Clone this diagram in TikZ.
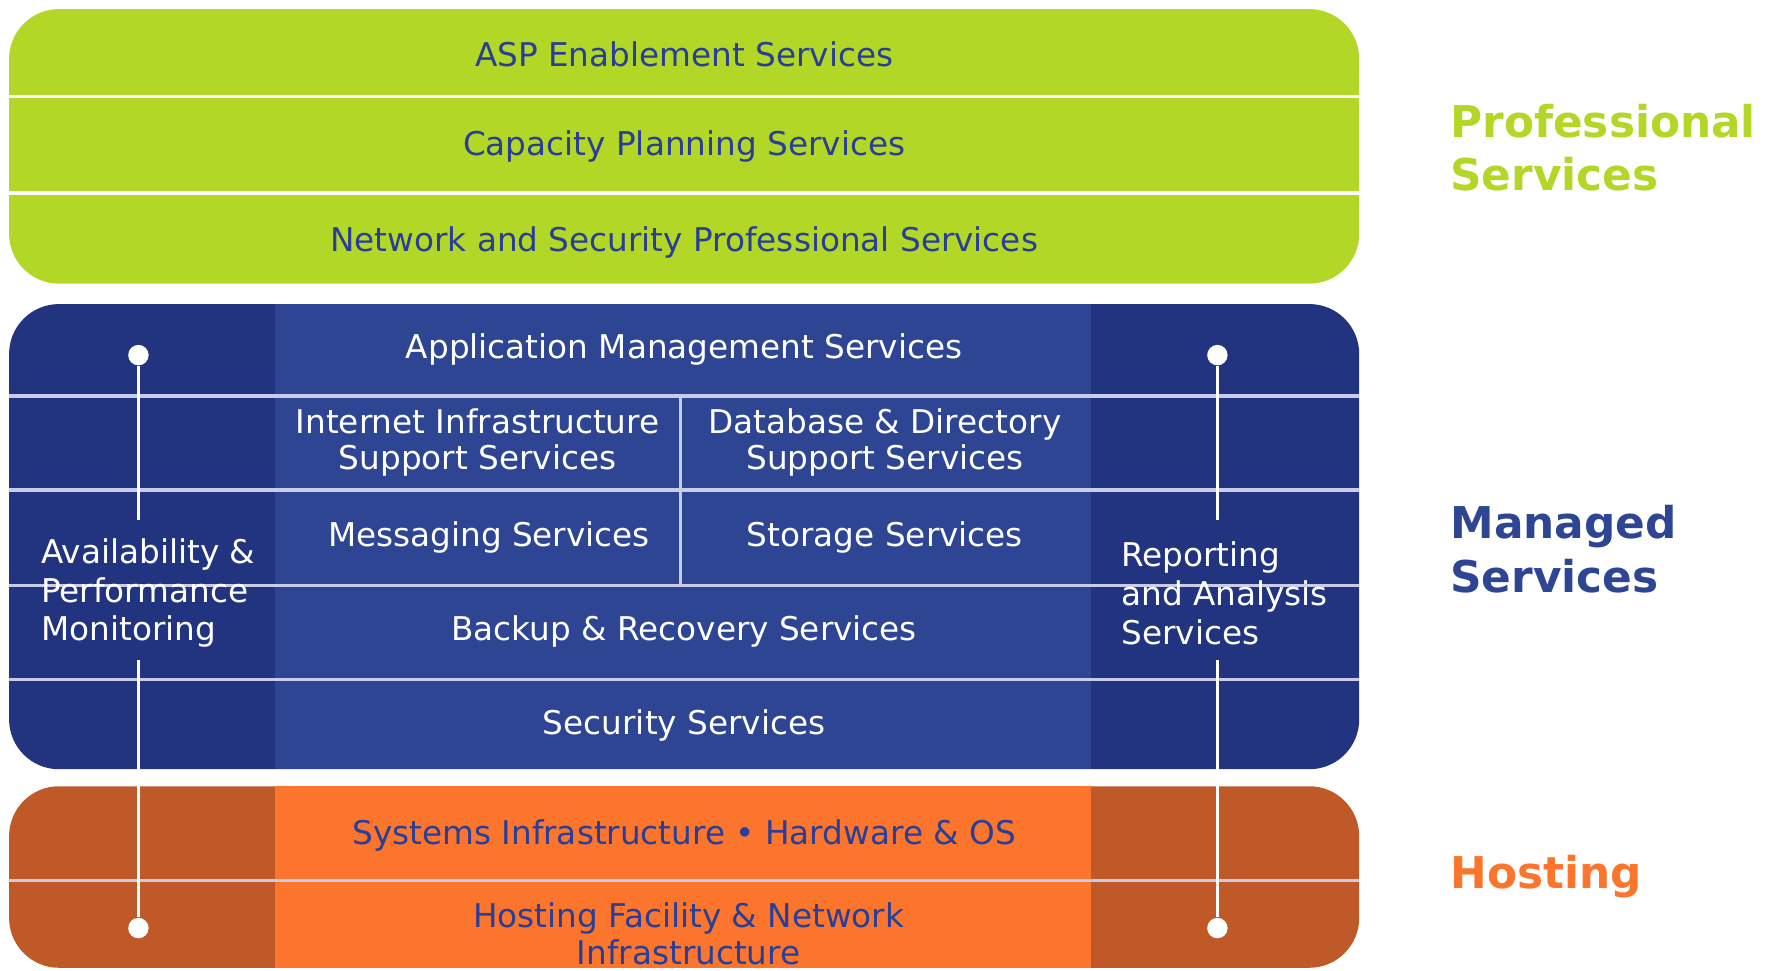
\documentclass[tikz,border=0pt]{standalone}
\usepackage{fontspec}
\setmainfont{DejaVu Sans}
\definecolor{profgreen}{RGB}{179,215,38}
\definecolor{mgdblue}{RGB}{45,69,147}
\definecolor{mgddark}{RGB}{34,52,127}
\definecolor{hostorange}{RGB}{252,117,45}
\definecolor{hostdark}{RGB}{191,90,40}
\definecolor{labelblue}{RGB}{40,62,152}
\definecolor{rulecol}{RGB}{200,204,232}
\begin{document}
\begin{tikzpicture}[x=0.5pt,y=-0.5pt,
  band/.style={rounded corners=22pt},
  svc/.style={font=\fontsize{14.4}{16}\selectfont, align=center, inner sep=0pt},
  side/.style={font=\fontsize{14.4}{17}\selectfont, align=left, anchor=west, inner sep=0pt, text=white},
  head/.style={font=\fontsize{19.3}{23.5}\selectfont\bfseries, align=left, anchor=west, inner sep=0pt},
  divider/.style={rulecol, line width=1.5pt},
  dot/.style={circle, fill=white, inner sep=0pt, minimum size=9pt},
  vline/.style={white, line width=1.3pt}]
\useasboundingbox (0,0) rectangle (1568,855);
% professional services
\fill[profgreen, band] (8,8) rectangle (1198,250);
\draw[white, line width=1.5pt] (8,85) -- (1198,85);
\draw[white, line width=1.5pt] (8,170) -- (1198,170);
\node[svc, text=labelblue] (asp) at (603,48) {ASP Enablement Services};
\node[svc, text=labelblue] (cap) at (603,129) {Capacity Planning Services};
\node[svc, text=labelblue] (netsec) at (603,214) {Network and Security Professional Services};
% managed services
\fill[mgddark, band] (8,268) rectangle (1198,678);
\fill[mgdblue] (242,268) rectangle (962,678);
\foreach \y in {349,432,516,599}
  \draw[divider] (8,\y) -- (1198,\y);
\draw[divider] (600,349) -- (600,516);
\node[svc, text=white] (app) at (603,308) {Application Management Services};
\node[svc, text=white] (inet) at (421,390) {Internet Infrastructure\\Support Services};
\node[svc, text=white] (db) at (780,390) {Database \& Directory\\Support Services};
\node[svc, text=white] (msg) at (431,474) {Messaging Services};
\node[svc, text=white] (stor) at (780,474) {Storage Services};
\node[svc, text=white] (backup) at (603,557) {Backup \& Recovery Services};
\node[svc, text=white] (sec) at (603,639) {Security Services};
% hosting
\fill[hostdark, band] (8,693) rectangle (1198,853);
\fill[hostorange] (242,693) rectangle (962,853);
\draw[divider] (8,776) -- (1198,776);
\node[svc, text=labelblue] (sys) at (603,736) {Systems Infrastructure • Hardware \& OS};
\node[svc, text=labelblue] (facil) at (607,823) {Hosting Facility \& Network\\Infrastructure};
% side columns
\node[side] (avail) at (36,523) {Availability \&\\Performance\\Monitoring};
\node[side] (report) at (988,523) {Reporting\\and Analysis\\Services};
\node[dot] (ltop) at (122,313) {};
\node[dot] (lbot) at (122,818) {};
\node[dot] (rtop) at (1073,313) {};
\node[dot] (rbot) at (1073,818) {};
\coordinate (lgapa) at (122,458);
\coordinate (lgapb) at (122,582);
\coordinate (rgapa) at (1073,458);
\coordinate (rgapb) at (1073,582);
\draw[vline] (ltop) -- (lgapa);
\draw[vline] (lgapb) -- (lbot);
\draw[vline] (rtop) -- (rgapa);
\draw[vline] (rgapb) -- (rbot);
% layer headings
\node[head, text=profgreen] (prof) at (1278,130) {Professional\\Services};
\node[head, text=mgdblue] (mgd) at (1278,484) {Managed\\Services};
\node[head, text=hostorange] (host) at (1278,773) {Hosting};
\end{tikzpicture}
\end{document}
